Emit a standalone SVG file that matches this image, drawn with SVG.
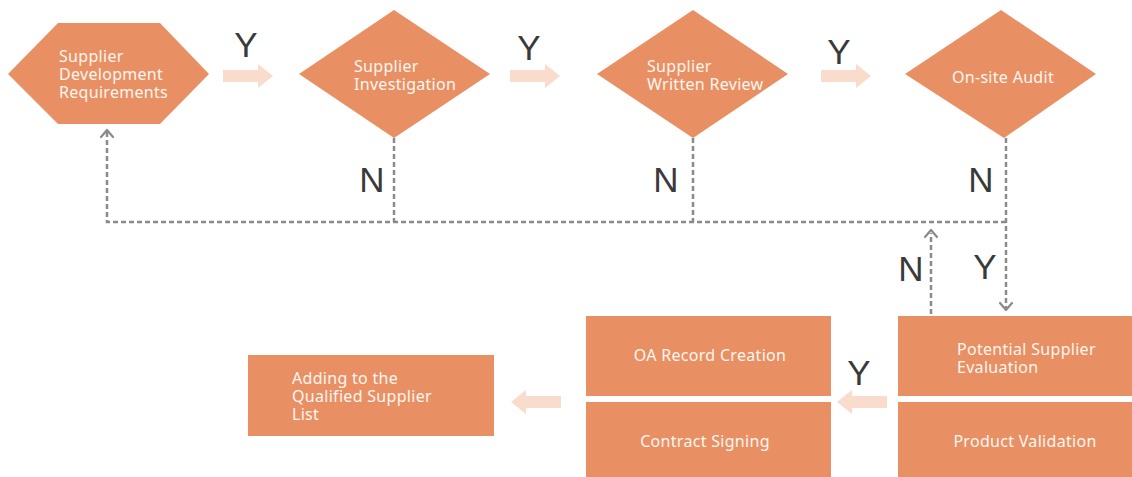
<svg xmlns="http://www.w3.org/2000/svg" width="1132" height="477" viewBox="0 0 1132 477">
  <style>
    .shape { fill: #E89064; }
    .flow { fill: #F9DCCB; }
    .txt { font-family: "Noto Sans", "Open Sans", sans-serif; font-size: 16px; fill: #FFF6F0; letter-spacing: 0.3px; }
    .mid { text-anchor: middle; }
    .yn { font-family: "Liberation Sans", Arial, sans-serif; font-size: 35px; fill: #3A3A3A; text-anchor: middle; }
    .dash { fill: none; stroke: #8A8A8A; stroke-width: 2.5; stroke-dasharray: 5 3; }
    .head { fill: none; stroke: #8A8A8A; stroke-width: 2.2; stroke-linecap: round; stroke-linejoin: round; }
  </style>
  <defs>
    <!-- block arrow pointing right, origin at left/center -->
    <path id="flowRight" d="M0,-6 H35 V-12 L50,0 L35,12 V6 H0 Z"/>
  </defs>

  <rect width="1132" height="477" fill="#FFFFFF"/>

  <!-- dashed feedback connectors -->
  <g id="connectors">
    <path class="dash" d="M394,138 V222"/>
    <path class="dash" d="M693,138 V222"/>
    <path class="dash" d="M1006,138 V308"/>
    <path class="dash" d="M1006,222 H107 V132"/>
    <path class="dash" d="M931,314 V233"/>
    <path class="head" d="M101,137 L107,130 L113,137"/>
    <path class="head" d="M925,237 L931,230 L937,237"/>
    <path class="head" d="M1000,303 L1006,310 L1012,303"/>

    <!-- block arrows -->
    <use href="#flowRight" class="flow" transform="translate(223,76)"/>
    <use href="#flowRight" class="flow" transform="translate(510,76)"/>
    <use href="#flowRight" class="flow" transform="translate(821,76)"/>
    <use href="#flowRight" class="flow" transform="translate(887,402) scale(-1,1)"/>
    <use href="#flowRight" class="flow" transform="translate(561,402) scale(-1,1)"/>

    <!-- branch labels -->
    <text class="yn" x="246" y="57">Y</text>
    <text class="yn" x="529" y="60">Y</text>
    <text class="yn" x="839" y="64">Y</text>
    <text class="yn" x="372" y="192">N</text>
    <text class="yn" x="666" y="192">N</text>
    <text class="yn" x="981" y="192">N</text>
    <text class="yn" x="911" y="281">N</text>
    <text class="yn" x="985" y="279">Y</text>
    <text class="yn" x="859" y="385">Y</text>
  </g>

  <g id="dev-requirements">
    <polygon class="shape" points="8,74 58,23 160,23 209,74 160,124 58,124"/>
    <text class="txt" x="59" y="62">Supplier</text>
    <text class="txt" x="59" y="80">Development</text>
    <text class="txt" x="59" y="98">Requirements</text>
  </g>

  <g id="investigation">
    <polygon class="shape" points="299,74 394,10 490,74 394,138"/>
    <text class="txt" x="354" y="72">Supplier</text>
    <text class="txt" x="354" y="90">Investigation</text>
  </g>

  <g id="written-review">
    <polygon class="shape" points="597,74 693,10 788,74 693,138"/>
    <text class="txt" x="647" y="72">Supplier</text>
    <text class="txt" x="647" y="90">Written Review</text>
  </g>

  <g id="onsite-audit">
    <polygon class="shape" points="905,74 1001,10 1096,74 1004,138"/>
    <text class="txt mid" x="1003" y="83">On-site Audit</text>
  </g>

  <g id="potential-evaluation">
    <rect class="shape" x="898" y="316" width="234" height="80"/>
    <text class="txt" x="957" y="355">Potential Supplier</text>
    <text class="txt" x="957" y="373">Evaluation</text>
  </g>

  <g id="product-validation">
    <rect class="shape" x="898" y="402" width="234" height="75"/>
    <text class="txt mid" x="1025" y="447">Product Validation</text>
  </g>

  <g id="oa-record">
    <rect class="shape" x="586" y="316" width="245" height="80"/>
    <text class="txt mid" x="710" y="361">OA Record Creation</text>
  </g>

  <g id="contract-signing">
    <rect class="shape" x="586" y="402" width="245" height="75"/>
    <text class="txt mid" x="705" y="447">Contract Signing</text>
  </g>

  <g id="qualified-list">
    <rect class="shape" x="248" y="355" width="246" height="81"/>
    <text class="txt" x="292" y="384">Adding to the</text>
    <text class="txt" x="292" y="402">Qualified Supplier</text>
    <text class="txt" x="292" y="420">List</text>
  </g>
</svg>
